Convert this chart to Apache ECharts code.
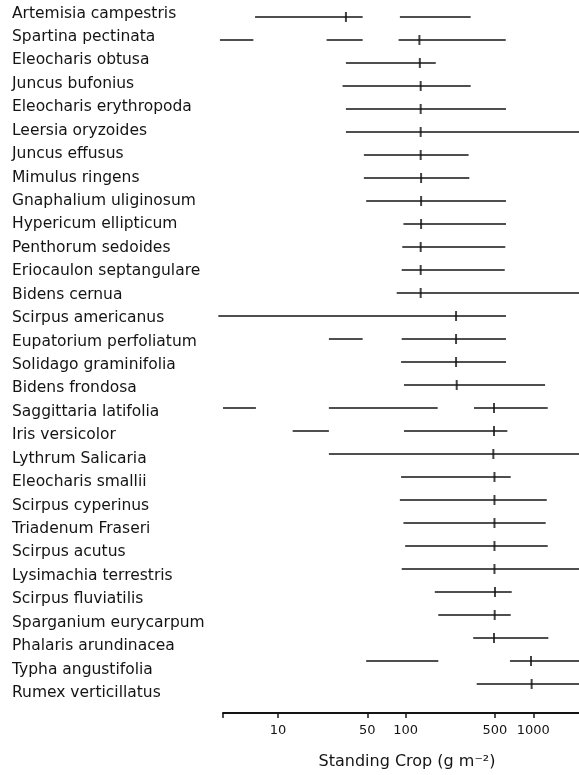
<!DOCTYPE html>
<html>
<head>
<meta charset="utf-8">
<script src="https://cdn.jsdelivr.net/npm/echarts@6/dist/echarts.min.js"></script>
<style>
  html, body { margin: 0; padding: 0; background: #fff; }
  #chart { width: 579px; height: 775px; }
</style>
</head>
<body>
<div id="chart"></div>
<script>
// Species, top to bottom
const species = [
  'Artemisia campestris', 'Spartina pectinata', 'Eleocharis obtusa', 'Juncus bufonius',
  'Eleocharis erythropoda', 'Leersia oryzoides', 'Juncus effusus', 'Mimulus ringens',
  'Gnaphalium uliginosum', 'Hypericum ellipticum', 'Penthorum sedoides', 'Eriocaulon septangulare',
  'Bidens cernua', 'Scirpus americanus', 'Eupatorium perfoliatum', 'Solidago graminifolia',
  'Bidens frondosa', 'Saggittaria latifolia', 'Iris versicolor', 'Lythrum Salicaria',
  'Eleocharis smallii', 'Scirpus cyperinus', 'Triadenum Fraseri', 'Scirpus acutus',
  'Lysimachia terrestris', 'Scirpus fluviatilis', 'Sparganium eurycarpum', 'Phalaris arundinacea',
  'Typha angustifolia', 'Rumex verticillatus'
];

// Standing crop ranges (g m-2) observed for each species, as [low, high] pairs
const ranges = [
  [[6.6, 46], [90, 323]],
  [[3.5, 6.4], [24, 46], [88, 608]],
  [[34, 172]],
  [[32, 323]],
  [[34, 611]],
  [[34, 2300]],
  [[47, 311]],
  [[47, 315]],
  [[49, 611]],
  [[96, 611]],
  [[94, 603]],
  [[93, 597]],
  [[85, 2300]],
  [[3.4, 611]],
  [[25, 46], [93, 611]],
  [[92, 611]],
  [[97, 1236]],
  [[3.7, 6.7], [25, 178], [343, 1297]],
  [[13, 25], [97, 626]],
  [[25, 2300]],
  [[92, 665]],
  [[90, 1274]],
  [[96, 1250]],
  [[99, 1297]],
  [[93, 2300]],
  [[169, 677]],
  [[180, 665]],
  [[338, 1311]],
  [[49, 180], [656, 2300]],
  [[360, 2300]]
];

// Standing crop at peak for each species (g m-2)
const peaks = [
  34, 128, 129, 131, 131, 131, 131, 132, 132, 132,
  131, 131, 131, 248, 248, 248, 251, 492, 492, 486,
  496, 496, 496, 496, 496, 501, 498, 492, 959, 970
];

// Axis scale
const axisMin = 3.7;
const axisMax = 2280;
const tickValues = [3.7, 10, 50, 100, 500, 1000];
const labelValues = [10, 50, 100, 500, 1000];

const ink = '#141414';
const fontFamily = '"DejaVu Sans", sans-serif';

const segmentData = [];
ranges.forEach((list, row) => {
  list.forEach(([lo, hi]) => segmentData.push([lo, hi, row]));
});
const peakData = peaks.map((v, row) => [v, row]);

const chart = echarts.init(document.getElementById('chart'), null, { renderer: 'canvas' });

chart.setOption({
  backgroundColor: '#fff',
  animation: false,
  grid: [
    { left: 223, right: 0, top: 17, bottom: 88, containLabel: false },
    { left: 220, right: 0, top: 13.5, bottom: 82, containLabel: false }
  ],
  xAxis: [
    {
      gridIndex: 0,
      type: 'log',
      logBase: 10,
      min: axisMin,
      max: axisMax,
      offset: 29,
      axisLine: { show: true, lineStyle: { color: ink, width: 2 } },
      axisTick: {
        show: true, inside: false, length: 5,
        customValues: tickValues,
        lineStyle: { color: ink, width: 1.5 }
      },
      axisLabel: {
        show: true, margin: 11,
        customValues: labelValues,
        color: ink, fontFamily: fontFamily, fontSize: 13,
        formatter: v => String(Math.round(v))
      },
      splitLine: { show: false },
      minorTick: { show: false },
      name: 'Standing Crop (g m\u207B\u00B2)',
      nameLocation: 'middle',
      nameGap: 41,
      nameTextStyle: { color: ink, fontFamily: fontFamily, fontSize: 16, padding: [0, 0, 0, 12] }
    },
    {
      gridIndex: 1, type: 'value', show: false, min: 0, max: 1
    }
  ],
  yAxis: [
    {
      gridIndex: 0,
      type: 'category',
      inverse: true,
      boundaryGap: false,
      data: species,
      show: false
    },
    {
      gridIndex: 1,
      type: 'category',
      inverse: true,
      boundaryGap: false,
      data: species,
      axisLine: { show: false },
      axisTick: { show: false },
      splitLine: { show: false },
      axisLabel: {
        show: true, interval: 0, align: 'left', margin: 208,
        color: ink, fontFamily: fontFamily, fontSize: 15.5
      }
    }
  ],
  series: [
    {
      type: 'custom',
      xAxisIndex: 0, yAxisIndex: 0,
      clip: false,
      encode: { x: [0, 1], y: 2 },
      data: segmentData,
      renderItem: (params, api) => {
        const row = api.value(2);
        const a = api.coord([api.value(0), row]);
        const b = api.coord([api.value(1), row]);
        return {
          type: 'line',
          shape: { x1: a[0], y1: a[1], x2: b[0], y2: b[1] },
          style: { stroke: ink, lineWidth: 1.4 }
        };
      }
    },
    {
      type: 'scatter',
      xAxisIndex: 0, yAxisIndex: 0,
      data: peakData,
      symbol: 'rect',
      symbolSize: [2, 10],
      itemStyle: { color: ink },
      silent: true
    }
  ]
});
</script>
</body>
</html>
